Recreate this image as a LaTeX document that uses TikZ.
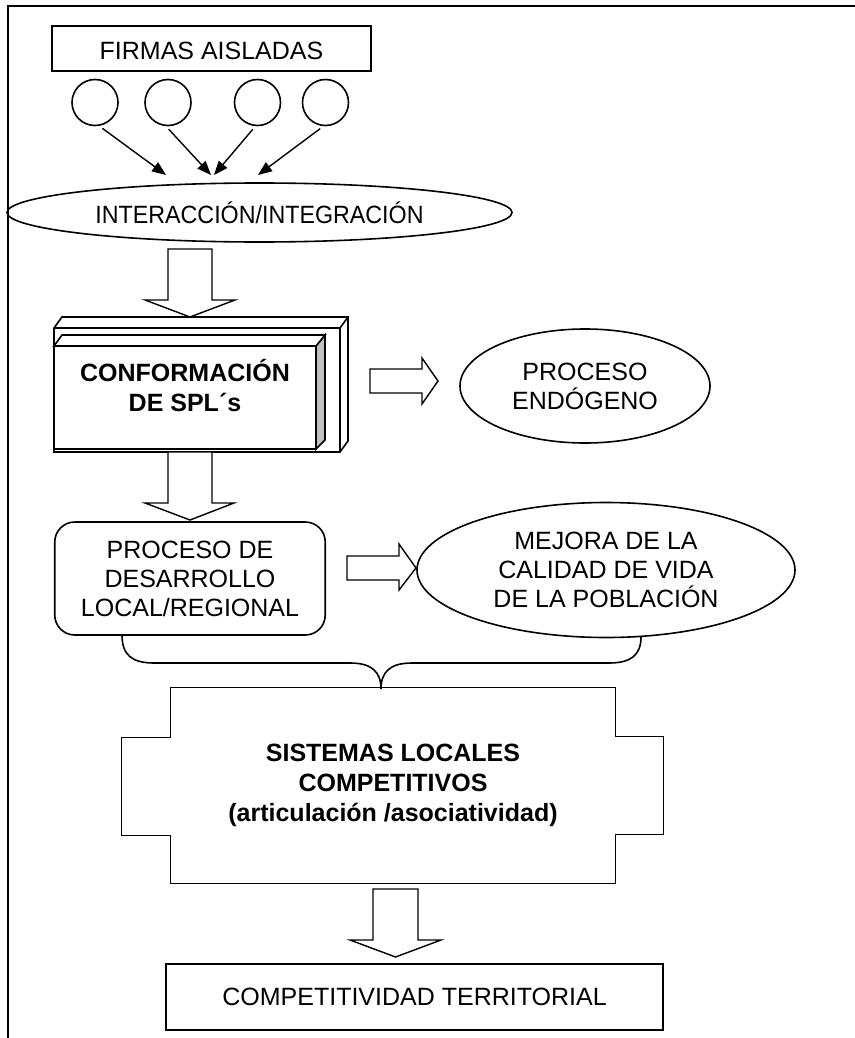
\documentclass[tikz,border=0pt]{standalone}
\usepackage{fontspec}
\setmainfont{Liberation Sans}
\newfontfamily\estrecha[FakeStretch=0.93]{Liberation Sans}
\usetikzlibrary{shapes.geometric, arrows.meta, calc}

\tikzset{
	caja/.style = {draw, line width = 0.8pt, inner sep = 0pt, align = center},
	firma/.style = {draw, circle, line width = 0.8pt, minimum size = 23pt, inner sep = 0pt},
	elipse/.style = {draw, ellipse, line width = 0.8pt, inner sep = 0pt, align = center},
	bloque/.style = {draw, fill = white, line width = 0.7pt},
	flecha/.style = {-{Triangle[length = 7pt, width = 5.5pt]}, line width = 0.7pt},
	negrita/.style = {align = center, font = \fontsize{12.5}{15}\selectfont\bfseries}
}

\begin{document}
\begin{tikzpicture}[x = 0.5pt, y = -0.5pt, font = \fontsize{12.5}{14.5}\selectfont]
\useasboundingbox (0, 0) rectangle (855, 1038);
% marco
\draw[line width = 0.8pt] (8, 1038) -- (8, 6) -- (855, 6);

% firmas aisladas
\node[caja, minimum width = 159.5pt, minimum height = 22.5pt] (firmas) at (211.5, 48.5) {};
\node (firmastxt) at ($(firmas.center) + (0, 2.5)$) {FIRMAS AISLADAS};
\node[firma] (f1) at (95, 102.5) {};
\node[firma] (f2) at (168, 102.5) {};
\node[firma] (f3) at (257.5, 102.5) {};
\node[firma] (f4) at (325.5, 102.5) {};
\node[elipse, minimum width = 252.5pt, minimum height = 29.5pt] (inter) at (259.5, 212.5)
	{\estrecha INTERACCIÓN/INTEGRACIÓN};
\coordinate (t1) at (166, 175);
\coordinate (t2) at (211, 175);
\coordinate (t3) at (214, 175);
\coordinate (t4) at (258, 175);
\draw[flecha, shorten <= 2pt] (f1.-80) -- (t1);
\draw[flecha, shorten <= 2pt] (f2.-95) -- (t2);
\draw[flecha, shorten <= 2pt] (f3.-95) -- (t3);
\draw[flecha, shorten <= 2pt] (f4.-95) -- (t4);

% flecha hacia SPL
\draw[bloque] (168, 249) -- (212, 249) -- (212, 300) -- (235, 300) --
	(190, 317) -- (145, 300) -- (168, 300) -- cycle;

% SPL
\draw[line width = 0.8pt, fill = white]
	(54, 328) -- (62, 317) -- (348, 317) -- (348, 441) -- (340, 452) -- (54, 452) -- cycle;
\draw[line width = 0.8pt] (54, 328) -- (340, 328) -- (348, 317) (340, 328) -- (340, 452);
\draw[line width = 0.8pt, fill = black!25] (316, 346) -- (325, 335) -- (325, 440) -- (316, 449) -- cycle;
\draw[line width = 0.8pt, fill = white] (54, 346) -- (62, 335) -- (325, 335) -- (316, 346) -- cycle;
\node[caja, line width = 1.2pt, fill = white, minimum width = 131pt, minimum height = 51.5pt]
	(spl) at (185, 397.5) {};
\node[negrita] (spltxt) at ($(spl.center) + (0, -12)$) {CONFORMACIÓN\\DE SPL´s};

\draw[bloque] (370, 369) -- (422, 369) -- (422, 358) -- (438, 381) --
	(422, 404) -- (422, 393) -- (370, 393) -- cycle;
\node[elipse, minimum width = 125pt, minimum height = 57pt] (endo) at (585, 386)
	{PROCESO\\ENDÓGENO};

% desarrollo local
\draw[bloque] (168, 452) -- (212, 452) -- (212, 503) -- (234, 503) --
	(190, 520) -- (145, 503) -- (168, 503) -- cycle;
\node[caja, rounded corners = 10pt, minimum width = 135.25pt, minimum height = 56.5pt]
	(desa) at (190, 578.5) {PROCESO DE\\DESARROLLO\\LOCAL/REGIONAL};
\draw[bloque] (347, 556) -- (399, 556) -- (399, 544) -- (416, 568) --
	(399, 590) -- (399, 580) -- (347, 580) -- cycle;
\node[elipse, minimum width = 189pt, minimum height = 67.5pt] (mejora) at (606, 570)
	{MEJORA DE LA\\CALIDAD DE VIDA\\DE LA POBLACIÓN};

% llave
\draw[line width = 0.8pt]
	(122, 635) .. controls (122, 655) and (132, 663) .. (154, 663) --
	(350, 663) .. controls (372, 663) and (381, 672) .. (381, 689) ..
	controls (381, 672) and (390, 663) .. (412, 663) --
	(609, 663) .. controls (631, 663) and (641, 655) .. (641, 637);

% sistemas locales
\node[negrita, minimum width = 222pt, minimum height = 97.5pt, inner sep = 0pt]
	(sist) at (393, 785.5) {SISTEMAS LOCALES\\COMPETITIVOS\\(articulación /asociatividad)};
\draw[line width = 0.8pt]
	(sist.north west) -- (sist.north east) -- ++(0, 49) -- ++(48, 0) -- ++(0, 98) --
	++(-48, 0) -- (sist.south east) -- (sist.south west) -- ++(0, -48) -- ++(-49, 0) --
	++(0, -98) -- ++(49, 0) -- cycle;

\draw[bloque] (373, 889) -- (418, 889) -- (418, 940) -- (441, 940) --
	(395.5, 957) -- (350, 940) -- (373, 940) -- cycle;
\node[caja, minimum width = 248.5pt, minimum height = 33pt] (comp) at (414.5, 997)
	{COMPETITIVIDAD TERRITORIAL};
\end{tikzpicture}
\end{document}
